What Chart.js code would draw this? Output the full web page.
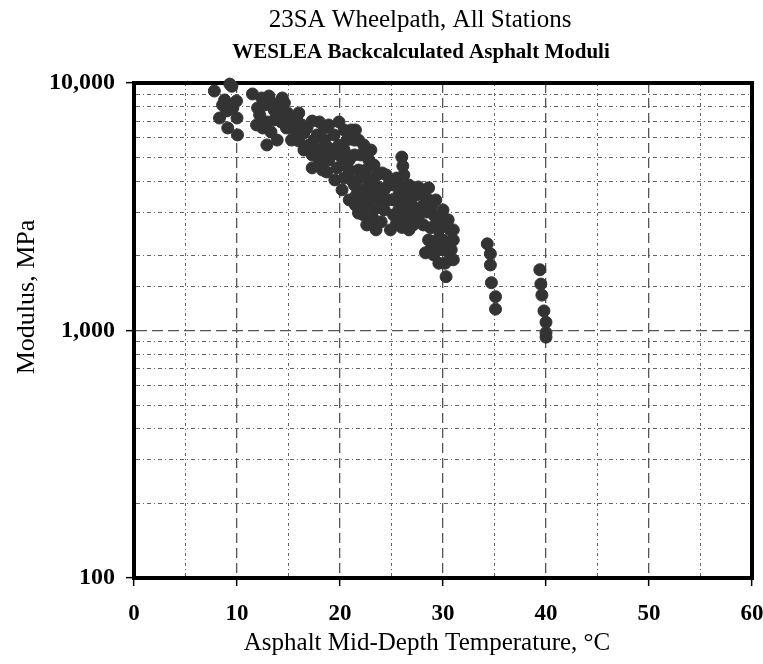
<!DOCTYPE html>
<html>
<head>
<meta charset="utf-8">
<script src="https://cdn.jsdelivr.net/npm/chart.js@4"></script>
<style>
html,body{margin:0;padding:0;background:#fff;}
#wrap{width:763px;height:664px;}
</style>
</head>
<body>
<div id="wrap"><canvas id="c" width="763" height="664"></canvas></div>
<script>
const chartTitle = "23SA Wheelpath, All Stations";
const chartSubtitle = "WESLEA Backcalculated Asphalt Moduli";
const xAxisTitle = "Asphalt Mid-Depth Temperature, °C";
const yAxisTitle = "Modulus, MPa";
const yTickLabels = {100: "100", 1000: "1,000", 10000: "10,000"};

const temperature = [
  7.8,9.3,9.5,9.95,9.0,8.3,10.0,9.1,10.05,8.8,9.6,8.6,
  11.5,13.1,14.4,12.2,14.1,12.9,12.5,14.8,12.7,13.6,15.1,13.3,12.0,14.6,13.7,12.9,
  12.4,13.6,14.9,14.3,15.4,13.9,11.9,
  16.0,17.3,16.0,17.3,17.3,15.6,16.5,18.0,18.9,19.9,17.0,18.0,18.5,18.0,18.9,18.3,19.5,19.9,19.4,20.4,16.3,17.8,18.9,15.3,18.7,19.7,
  15.8,16.8,18.5,17.5,16.5,18.7,19.4,20.2,
  20.2,20.9,20.4,21.4,21.5,20.9,21.8,22.3,21.8,22.0,22.8,22.8,22.8,23.3,23.5,23.6,24.1,24.3,24.3,23.3,22.3,21.4,20.9,22.6,23.8,24.7,24.7,20.7,21.6,20.4,22.3,23.0,23.8,21.4,22.0,23.3,24.0,19.9,
  21.1,21.8,21.1,22.5,23.0,23.6,22.3,24.3,24.5,21.5,23.3,21.8,
  25.2,25.7,25.7,25.2,26.0,26.1,26.2,26.7,26.7,26.7,26.7,27.1,27.4,27.6,27.6,25.5,24.9,26.2,27.1,25.5,
  25.7,26.2,25.2,26.2,27.0,27.4,26.0,
  27.9,28.6,29.3,28.1,29.1,30.0,30.5,30.7,30.5,31.0,30.2,30.3,29.6,28.6,28.3,29.6,28.1,30.0,29.1,29.6,30.5,28.8,29.8,28.4,29.4,
  28.6,28.1,28.9,30.2,31.0,30.0,28.8,29.4,31.0,30.8,
  34.3,34.6,34.6,34.7,35.1,35.1,
  39.4,39.5,39.6,39.8,40.0,40.0,40.0
];
const modulus = [
  9280,9900,9700,8460,7710,7220,7220,6580,6170,8540,7930,8150,
  9030,8860,8700,7430,7710,5620,6580,6580,8150,7090,7220,6340,7930,8310,8230,6960,
  8700,7780,7570,6960,6580,5880,6770,
  7570,7020,5830,5120,4540,6460,6280,6960,6770,6960,5620,5360,5880,4890,4890,4450,4060,5120,6170,6460,6770,6170,5460,5880,4370,4540,
  7220,6580,6580,5880,5360,5120,5360,4660,
  3700,4450,5360,5880,6460,3370,2980,3700,4450,5120,4890,4060,3370,2800,2550,4250,4330,3700,3070,4660,5620,3870,4890,2670,3370,3370,3870,5880,3530,4130,3210,5360,3770,5120,4130,3070,2750,5620,
  6460,5880,4060,4450,3700,3530,2930,3370,4250,3210,3870,3530,
  3870,3530,3070,2930,5020,4620,4250,3870,3370,2930,2550,3530,3070,3800,2800,2720,2550,3210,2670,4130,
  3870,3700,3370,2800,3210,3530,2610,
  3700,3770,3370,3210,2930,3070,2800,2550,2260,1930,1870,1650,2120,2320,2060,2550,2670,2320,2020,1870,2080,2600,2800,3010,2320,
  3370,3530,3210,2670,2320,2120,2120,2750,2550,2120,
  2240,2040,1840,1560,1370,1220,
  1760,1540,1390,1200,1080,940,980
];

const points = temperature.map((t, i) => ({x: t, y: modulus[i]}));

const SERIF = '"Liberation Serif", "Times New Roman", serif';

function isMajorX(v) { return Math.abs(v % 10) < 1e-6; }
function isMajorY(v) { const l = Math.log10(v); return Math.abs(l - Math.round(l)) < 1e-6; }

const framePlugin = {
  id: 'frame',
  beforeDatasetsDraw(chart) {
    const {ctx, chartArea: a} = chart;
    ctx.save();
    ctx.strokeStyle = '#000';
    ctx.lineWidth = 4;
    ctx.beginPath();
    ctx.moveTo(a.left - 2, a.top);
    ctx.lineTo(a.right, a.top);
    ctx.lineTo(a.right, a.bottom + 2);
    ctx.stroke();
    ctx.restore();
  },
  afterDraw(chart) {
    const ctx = chart.ctx;
    ctx.save();
    ctx.fillStyle = '#000';
    ctx.textAlign = 'center';
    ctx.textBaseline = 'alphabetic';
    ctx.font = '25px ' + SERIF;
    ctx.fillText(chartTitle, 420, 27);
    ctx.font = 'bold 21px ' + SERIF;
    ctx.fillText(chartSubtitle, 421, 58);
    ctx.font = '25px ' + SERIF;
    ctx.fillText(xAxisTitle, 427, 650);
    ctx.translate(34, 297);
    ctx.rotate(-Math.PI / 2);
    ctx.font = '26px ' + SERIF;
    ctx.fillText(yAxisTitle, 0, 0);
    ctx.restore();
  }
};

new Chart(document.getElementById('c'), {
  type: 'scatter',
  data: {
    datasets: [{
      data: points,
      pointRadius: 6,
      pointHoverRadius: 6,
      backgroundColor: '#333333',
      borderColor: '#333333',
      borderWidth: 1,
      clip: false
    }]
  },
  options: {
    responsive: false,
    animation: false,
    devicePixelRatio: 1,
    layout: {padding: {top: 83, right: 11, bottom: 0, left: 0}},
    plugins: {legend: {display: false}, tooltip: {enabled: false}, title: {display: false}},
    scales: {
      x: {
        type: 'linear',
        min: 0, max: 60,
        afterFit(s) { s.height = 86; s.paddingLeft = 0; s.paddingRight = 0; },
        ticks: {
          stepSize: 5,
          autoSkip: false,
          maxRotation: 0,
          padding: 14,
          color: '#000',
          font: {family: SERIF, size: 23, weight: 'bold'},
          callback: (v) => isMajorX(v) ? String(v) : ''
        },
        grid: {
          color: (c) => isMajorX(c.tick.value) ? '#555' : '#666',
          lineWidth: (c) => isMajorX(c.tick.value) ? 1.3 : 1,
          drawTicks: true,
          tickLength: 8,
          tickWidth: 1.5,
          tickColor: (c) => isMajorX(c.tick.value) ? '#000' : 'rgba(0,0,0,0)'
        },
        border: {
          display: true, color: '#000', width: 4,
          dash: (c) => (c.type === 'tick' && c.tick) ? (isMajorX(c.tick.value) ? [10, 5] : [3, 3, 1, 3]) : []
        }
      },
      y: {
        type: 'logarithmic',
        min: 100, max: 10000,
        afterFit(s) { s.width = 134; s.paddingTop = 0; s.paddingBottom = 0; },
        ticks: {
          autoSkip: false,
          padding: 11,
          color: '#000',
          font: {family: SERIF, size: 24, weight: 'bold'},
          callback: (v) => yTickLabels[Math.round(v)] || ''
        },
        grid: {
          color: (c) => isMajorY(c.tick.value) ? '#555' : '#666',
          lineWidth: (c) => isMajorY(c.tick.value) ? 1.3 : 1,
          drawTicks: true,
          tickLength: 8,
          tickWidth: 1.5,
          tickColor: (c) => isMajorY(c.tick.value) ? '#000' : 'rgba(0,0,0,0)'
        },
        border: {
          display: true, color: '#000', width: 4,
          dash: (c) => (c.type === 'tick' && c.tick) ? (isMajorY(c.tick.value) ? [11, 5] : [4, 3, 1, 3]) : []
        }
      }
    }
  },
  plugins: [framePlugin]
});
</script>
</body>
</html>
